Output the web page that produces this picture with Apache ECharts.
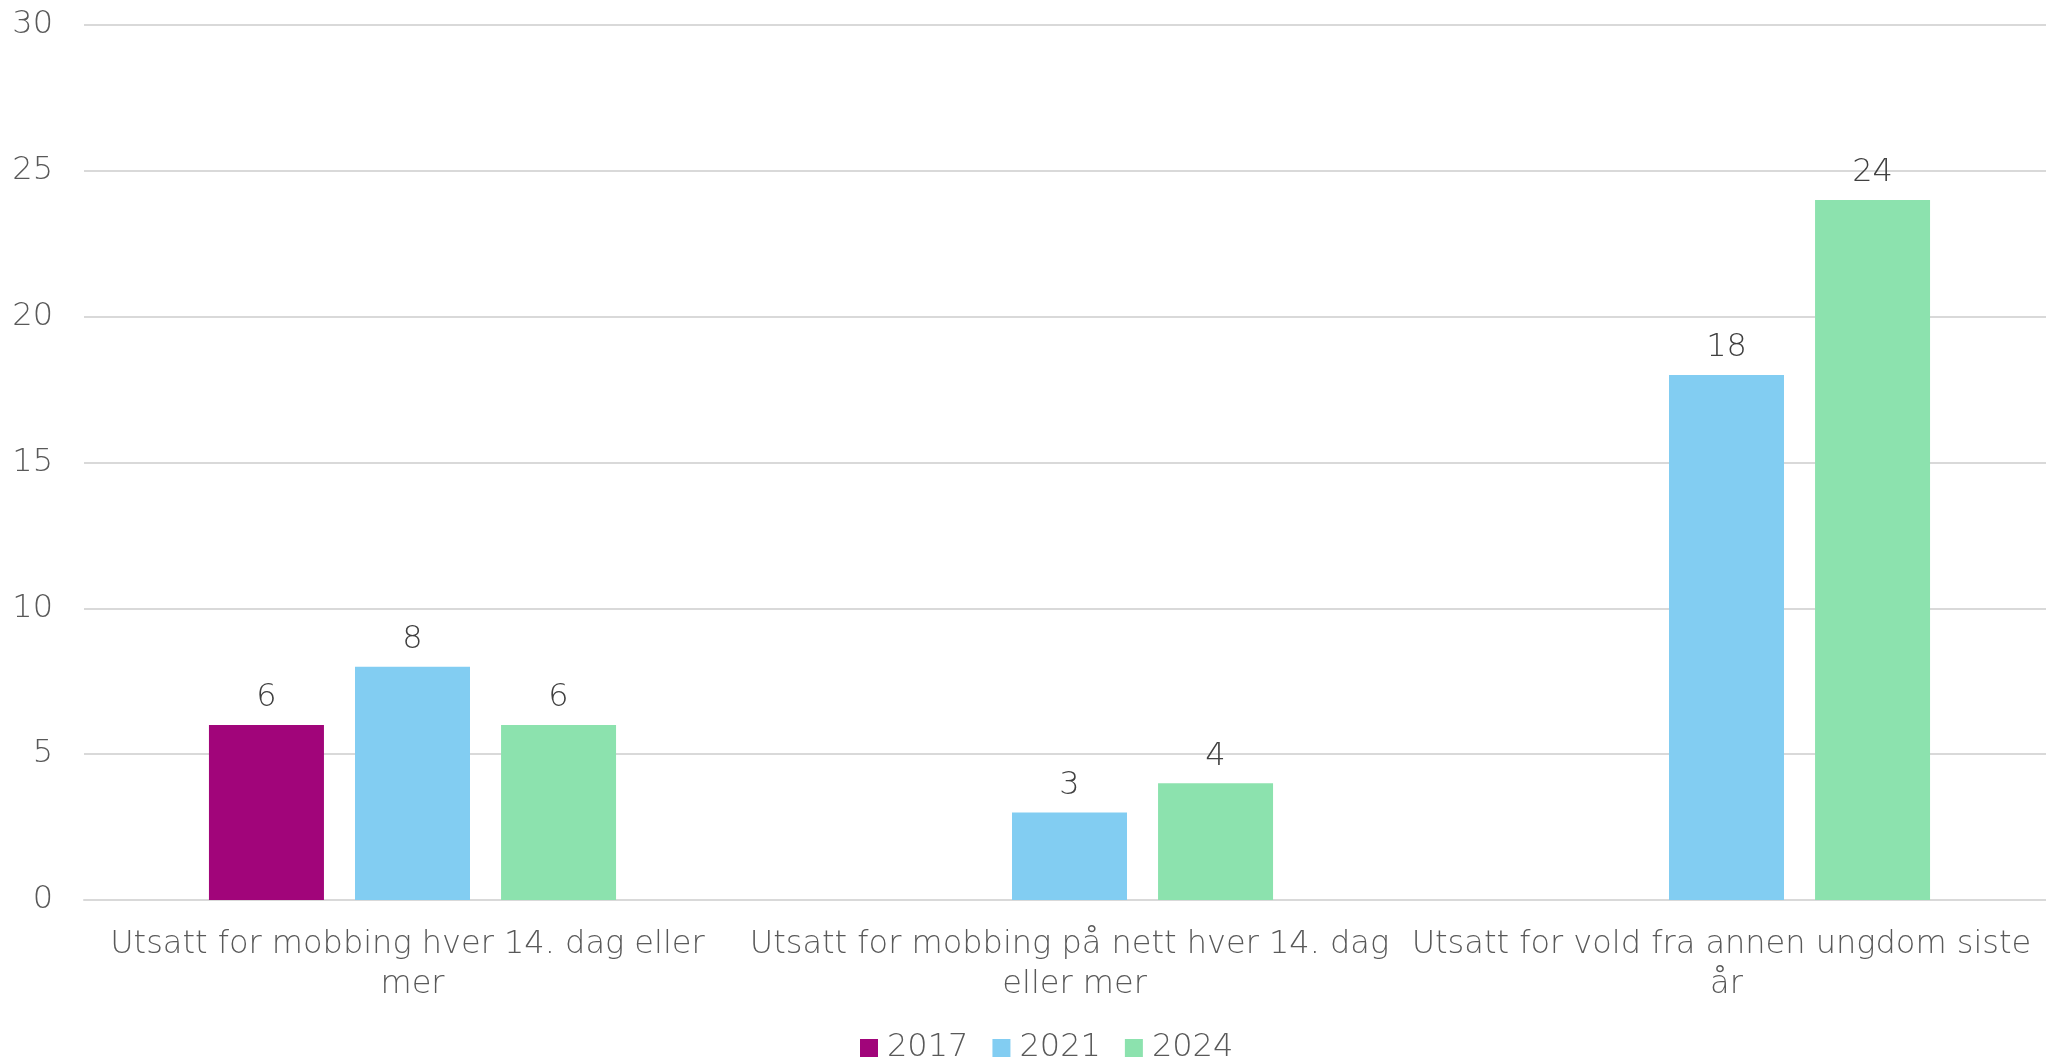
<!DOCTYPE html>
<html>
<head>
<meta charset="utf-8">
<script src="https://cdn.jsdelivr.net/npm/echarts@6/dist/echarts.min.js"></script>
<style>
html,body{margin:0;padding:0;background:#fff;}
#chart{width:2046px;height:1059px;}
</style>
</head>
<body>
<div id="chart"></div>
<script>
const categories = [
  "Utsatt for mobbing hver 14. dag eller mer",
  "Utsatt for mobbing på nett hver 14. dag eller mer",
  "Utsatt for vold fra annen ungdom siste år"
];
const seriesNames = ["2017", "2021", "2024"];
const values2017 = [6, null, null];
const values2021 = [8, 3, 18];
const values2024 = [6, 4, 24];
const yTicks = [0, 5, 10, 15, 20, 25, 30];

const colors = ["#A1057A", "#82CDF2", "#8CE2AE"];
const FONT = "DejaVu Sans";
const textColor = "#595959";

const chart = echarts.init(document.getElementById('chart'));
const dataSets = [values2017, values2021, values2024];

chart.setOption({
  animation: false,
  textStyle: { fontFamily: FONT },
  grid: { left: 84, width: 1971, top: 25, bottom: 159, containLabel: false, outerBoundsMode: 'none' },
  legend: {
    data: seriesNames,
    left: 855,
    top: 1027,
    itemWidth: 18,
    itemHeight: 18,
    itemGap: 24,
    icon: 'rect',
    textStyle: { fontFamily: FONT, fontSize: 32, color: textColor, fontWeight: 200, padding: [0, 0, 0, 4] }
  },
  xAxis: {
    type: 'category',
    data: categories,
    axisLine: { show: true, lineStyle: { color: '#d9d9d9', width: 2 } },
    axisTick: { show: false },
    axisLabel: {
      fontFamily: FONT,
      fontSize: 32,
      fontWeight: 200,
      color: textColor,
      margin: 25,
      lineHeight: 40,
      width: 652,
      overflow: 'break',
      interval: 0
    }
  },
  yAxis: {
    type: 'value',
    min: yTicks[0],
    max: yTicks[yTicks.length - 1],
    interval: 5,
    axisLine: { show: false },
    axisTick: { show: false },
    splitLine: { lineStyle: { color: '#d9d9d9', width: 2 } },
    axisLabel: { fontFamily: FONT, fontSize: 32, fontWeight: 200, color: textColor, margin: 31 }
  },
  series: seriesNames.map((name, i) => ({
    name: name,
    type: 'bar',
    data: dataSets[i],
    barWidth: 115,
    barGap: '27%',
    itemStyle: { color: colors[i] },
    label: {
      show: true,
      position: 'top',
      distance: 11,
      fontFamily: FONT,
      fontSize: 32,
      fontWeight: 200,
      color: '#404040'
    }
  }))
});
</script>
</body>
</html>
